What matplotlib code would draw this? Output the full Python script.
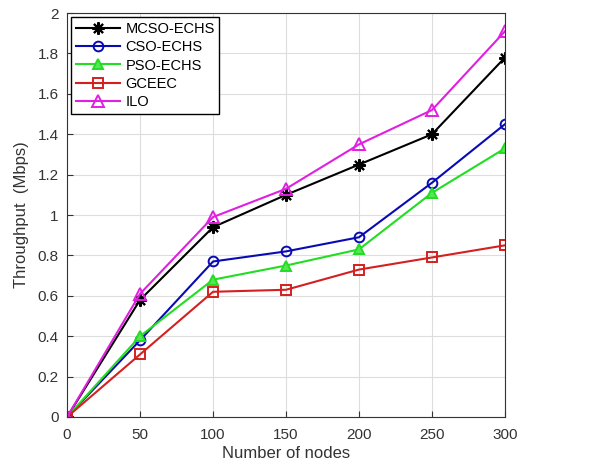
import matplotlib
matplotlib.use("Agg")
import matplotlib.pyplot as plt

# ── data ──────────────────────────────────────────────────────────────────────
NODES = [0, 50, 100, 150, 200, 250, 300]
MCSO  = [0, 0.58, 0.94, 1.10, 1.25, 1.40, 1.78]
CSO   = [0, 0.38, 0.77, 0.82, 0.89, 1.16, 1.45]
PSO   = [0, 0.40, 0.68, 0.75, 0.83, 1.11, 1.33]
GCEEC = [0, 0.31, 0.62, 0.63, 0.73, 0.79, 0.85]
ILO   = [0, 0.61, 0.99, 1.13, 1.35, 1.52, 1.91]
YTICKS = [0, 0.2, 0.4, 0.6, 0.8, 1, 1.2, 1.4, 1.6, 1.8, 2]
YLABELS = ["0", "0.2", "0.4", "0.6", "0.8", "1", "1.2", "1.4", "1.6", "1.8", "2"]

plt.rcParams["font.family"] = ["Liberation Sans", "DejaVu Sans"]

fig = plt.figure(figsize=(5.99, 4.68), dpi=100)
ax = fig.add_axes([0.112, 0.109, 0.731, 0.863])

ax.plot(NODES, MCSO, color="black", marker=(8, 2, 0), ms=9, mew=1.5, lw=1.5,
        label="MCSO-ECHS")
ax.plot(NODES, CSO, color="#0a0ab4", marker="o", ms=7, mfc="none", mew=1.4, lw=1.5,
        label="CSO-ECHS")
ax.plot(NODES, PSO, color="#22dd22", marker="^", ms=7, mfc="#55e855", mew=1.4, lw=1.5,
        label="PSO-ECHS")
ax.plot(NODES, GCEEC, color="#d42020", marker="s", ms=7, mfc="none", mew=1.4, lw=1.5,
        label="GCEEC")
ax.plot(NODES, ILO, color="#e020e0", marker="^", ms=8, mfc="none", mew=1.4, lw=1.5,
        label="ILO")

ax.set_xlim(0, 300)
ax.set_ylim(0, 2)
ax.set_xticks(NODES)
ax.set_yticks(YTICKS)
ax.set_yticklabels(YLABELS)
ax.tick_params(direction="in", labelsize=11, colors="#333333", length=4)
ax.tick_params(axis="x", pad=8)
ax.tick_params(axis="y", pad=6)
ax.grid(True, color="#dddddd", lw=0.8)
ax.set_axisbelow(True)
for s in ax.spines.values():
    s.set_color("#333333")

ax.set_xlabel("Number of nodes", fontsize=12, color="#333333", labelpad=3)
ax.set_ylabel("Throughput  (Mbps)", fontsize=12, color="#333333", labelpad=6)

leg = ax.legend(loc="upper left", fontsize=10.5, fancybox=False, framealpha=1,
                edgecolor="black", handlelength=3.0, borderpad=0.3, labelspacing=0.3,
                handletextpad=0.4, borderaxespad=0.3)
leg.get_frame().set_linewidth(1.0)

fig.savefig("out.png", dpi=100)
